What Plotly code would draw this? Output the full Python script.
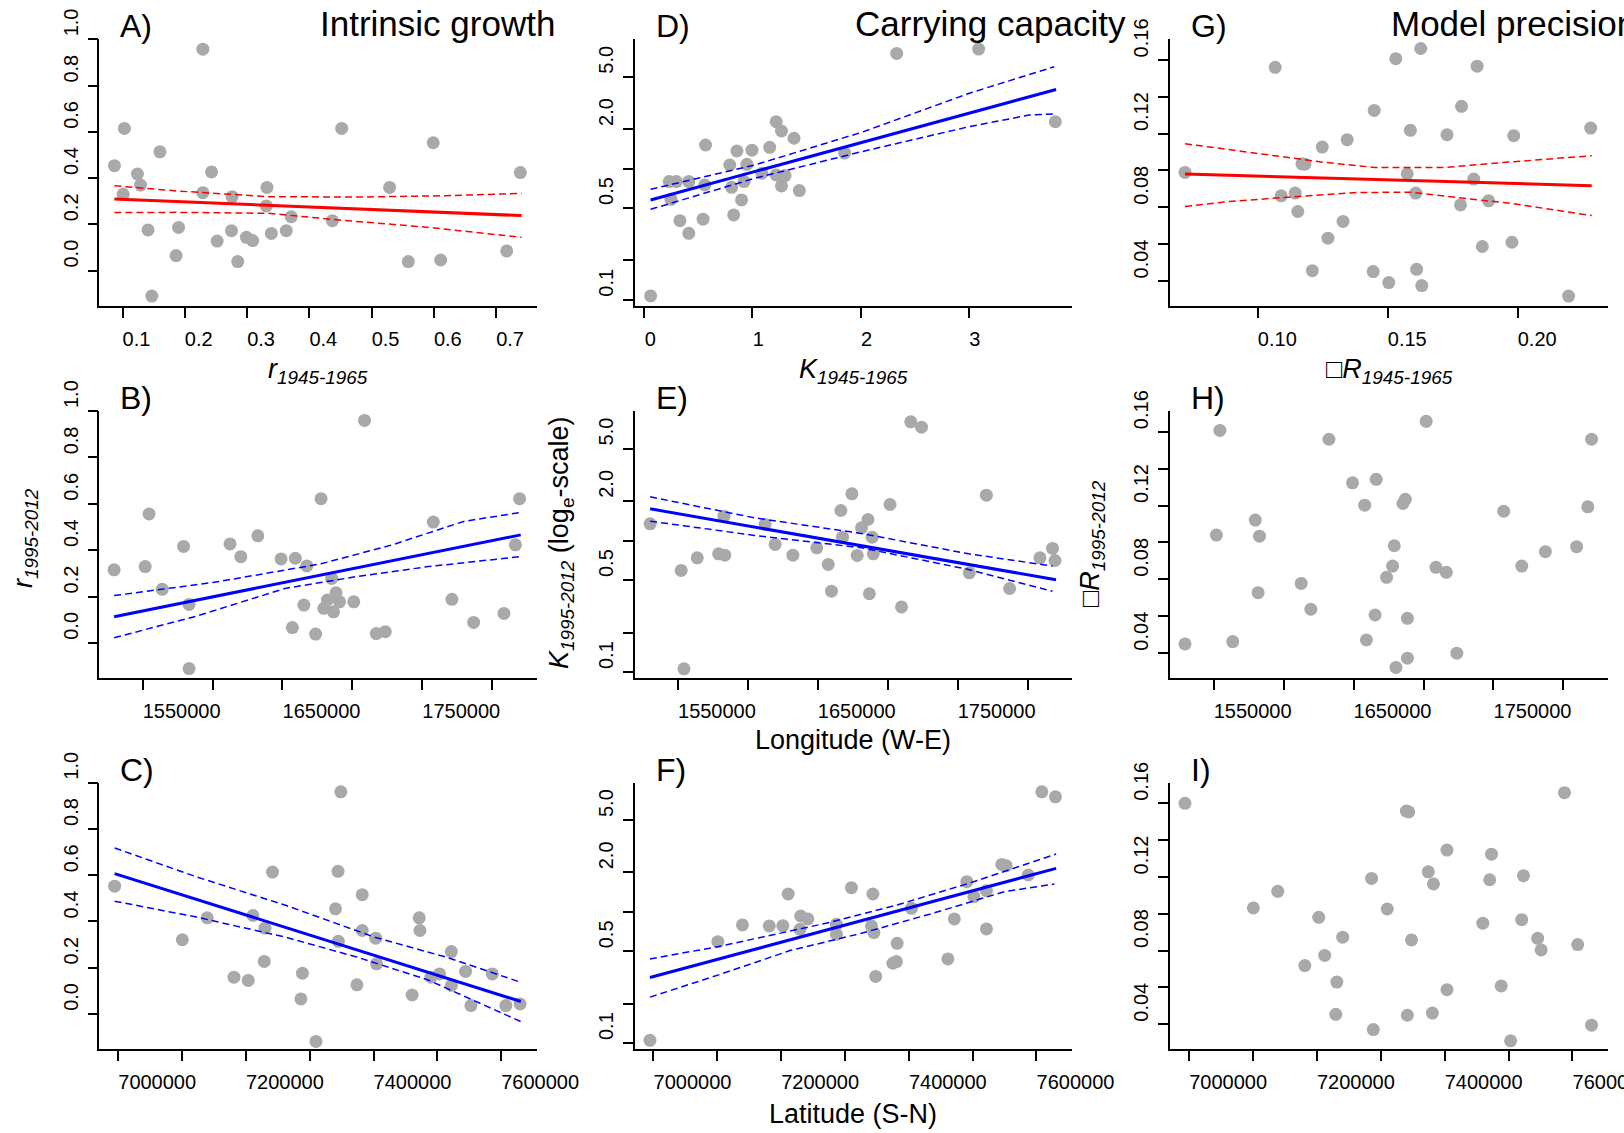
import plotly.graph_objects as go

FIG_W, FIG_H = 1624, 1133
FONT = "Liberation Sans, Arial, Helvetica, sans-serif"
PT = "#A9A9A9"
RED = "#FF0000"
BLUE = "#0000FF"

# ---------------- data ----------------
# Column 1: r 1995-2012 against r 1945-1965 (A), longitude (B), latitude (C)
A_x = [0.087, 0.103, 0.101, 0.124, 0.129, 0.160, 0.141, 0.147, 0.186, 0.190, 0.229, 0.229,
       0.243, 0.252, 0.275, 0.276, 0.285, 0.299, 0.309, 0.332, 0.331, 0.339, 0.363, 0.371,
       0.437, 0.452, 0.529, 0.559, 0.599, 0.611, 0.717, 0.739]
A_y = [0.454, 0.615, 0.330, 0.418, 0.370, 0.514, 0.176, -0.110, 0.065, 0.187, 0.958, 0.337,
       0.427, 0.128, 0.173, 0.320, 0.039, 0.144, 0.130, 0.360, 0.280, 0.161, 0.173, 0.233,
       0.216, 0.615, 0.360, 0.039, 0.553, 0.046, 0.085, 0.424]
A_fit_x = [0.087, 0.741]
A_fit_y = [0.310, 0.238]
A_hi_x = [0.087, 0.190, 0.334, 0.477, 0.620, 0.741]
A_hi_y = [0.367, 0.344, 0.320, 0.318, 0.324, 0.334]
A_lo_x = [0.087, 0.190, 0.334, 0.448, 0.592, 0.741]
A_lo_y = [0.251, 0.252, 0.248, 0.219, 0.187, 0.144]

B_x = [1529600, 1551800, 1554600, 1564000, 1579300, 1583200, 1583200, 1612500, 1620200,
       1632400, 1649000, 1659200, 1657100, 1665300, 1667400, 1673700, 1677600, 1679600,
       1682100, 1685200, 1686500, 1688300, 1690800, 1701000, 1708700, 1717100, 1723500,
       1757900, 1771200, 1786700, 1808400, 1816600, 1819600]
B_y = [0.315, 0.329, 0.556, 0.231, 0.416, 0.166, -0.111, 0.427, 0.372, 0.462, 0.362, 0.365,
       0.066, 0.163, 0.332, 0.038, 0.622, 0.149, 0.185, 0.278, 0.134, 0.216, 0.177, 0.177,
       0.960, 0.040, 0.048, 0.521, 0.188, 0.088, 0.127, 0.423, 0.622]
B_fit_x = [1529600, 1820400]
B_fit_y = [0.113, 0.466]
B_hi_x = [1529600, 1601000, 1677600, 1728600, 1779600, 1820400]
B_hi_y = [0.204, 0.261, 0.341, 0.423, 0.524, 0.563]
B_lo_x = [1529600, 1588300, 1652000, 1703100, 1754100, 1820400]
B_lo_y = [0.022, 0.115, 0.235, 0.286, 0.329, 0.372]

C_x = [6994400, 7100500, 7139500, 7181400, 7203700, 7211000, 7230000, 7228800, 7241700,
       7286300, 7288600, 7309800, 7340500, 7344400, 7344900, 7348800, 7374000, 7382300,
       7382300, 7403500, 7404700, 7460500, 7471600, 7472700, 7490100, 7503400, 7521900,
       7521900, 7544200, 7552600, 7586100, 7607300, 7629600]
C_y = [0.553, 0.321, 0.416, 0.159, 0.145, 0.426, 0.371, 0.227, 0.614, 0.065, 0.176, -0.119,
       0.455, 0.617, 0.314, 0.961, 0.126, 0.516, 0.361, 0.328, 0.217, 0.082, 0.416, 0.361,
       0.159, 0.173, 0.270, 0.123, 0.184, 0.036, 0.173, 0.036, 0.043]
C_fit_x = [6994400, 7630700]
C_fit_y = [0.607, 0.054]
C_hi_x = [6994400, 7122800, 7262300, 7401900, 7513500, 7630700]
C_hi_y = [0.718, 0.593, 0.470, 0.332, 0.246, 0.137]
C_lo_x = [6994400, 7122800, 7262300, 7374000, 7485600, 7630700]
C_lo_y = [0.488, 0.419, 0.332, 0.246, 0.147, -0.033]

# Column 2: K 1995-2012 (log scale) against K 1945-1965 (D), longitude (E), latitude (F)
D_x = [0.059, 0.231, 0.297, 0.247, 0.330, 0.412, 0.412, 0.544, 0.560, 0.567, 0.791, 0.808,
       0.827, 0.857, 0.900, 0.923, 0.949, 0.996, 1.088, 1.160, 1.220, 1.269, 1.220, 1.302,
       1.269, 1.385, 1.434, 1.853, 2.334, 3.092, 3.801]
D_y = [0.107, 0.795, 0.795, 0.583, 0.401, 0.321, 0.795, 0.411, 0.750, 1.51, 1.064, 0.719,
       0.443, 1.36, 0.576, 0.795, 1.077, 1.38, 0.920, 1.45, 2.27, 1.93, 0.893, 0.883,
       0.737, 1.70, 0.679, 1.31, 7.52, 8.12, 2.27]
D_fit_x = [0.059, 3.808]
D_fit_y = [0.576, 4.00]
D_hi_x = [0.059, 1.022, 2.011, 3.000, 3.791]
D_hi_y = [0.695, 1.064, 1.887, 3.73, 5.96]
D_lo_x = [0.059, 1.022, 2.011, 3.000, 3.560, 3.791]
D_lo_y = [0.489, 0.843, 1.344, 2.08, 2.555, 2.60]

E_x = [1530100, 1552300, 1554300, 1563800, 1579100, 1583500, 1582900, 1612300, 1619500,
       1632200, 1649300, 1657500, 1659800, 1666500, 1667700, 1674400, 1678200, 1681300,
       1685900, 1688900, 1686900, 1689700, 1701700, 1709900, 1716500, 1724200, 1758400,
       1770600, 1787200, 1808900, 1817900, 1819700]
E_y = [1.339, 0.592, 0.106, 0.739, 0.792, 0.774, 1.531, 1.324, 0.933, 0.774, 0.880, 0.658,
       0.412, 1.690, 1.060, 2.262, 0.770, 1.248, 1.444, 1.060, 0.394, 0.792, 1.878, 0.313,
       7.97, 7.26, 0.568, 2.211, 0.432, 0.739, 0.870, 0.705]
E_fit_x = [1530100, 1820400]
E_fit_y = [1.741, 0.503]
E_hi_x = [1530100, 1604700, 1681300, 1757900, 1817900]
E_hi_y = [2.147, 1.487, 1.131, 0.792, 0.639]
E_lo_x = [1530100, 1604700, 1681300, 1757900, 1817900]
E_lo_y = [1.403, 1.092, 0.880, 0.602, 0.412]

F_x = [6994400, 7100800, 7139400, 7181400, 7202600, 7211000, 7230600, 7241800, 7229500,
       7286600, 7286600, 7310100, 7343700, 7341400, 7345300, 7348100, 7375000, 7380600,
       7381700, 7404100, 7461200, 7471300, 7490900, 7502100, 7521600, 7521600, 7545700,
       7552400, 7587100, 7608400, 7629700]
F_y = [0.105, 0.593, 0.795, 0.781, 0.785, 1.368, 0.930, 0.883, 0.737, 0.804, 0.675, 1.528,
       1.368, 0.781, 0.695, 0.322, 0.406, 0.418, 0.576, 1.064, 0.438, 0.883, 1.698, 1.305,
       1.450, 0.741, 2.30, 2.247, 1.909, 8.21, 7.52]
F_fit_x = [6994400, 7630800]
F_fit_y = [0.316, 2.145]
F_hi_x = [6994400, 7101900, 7269800, 7381700, 7493700, 7630800]
F_hi_y = [0.438, 0.544, 0.818, 1.128, 1.649, 2.757]
F_lo_x = [6994400, 7101900, 7213800, 7325800, 7437700, 7549600, 7628000]
F_lo_y = [0.224, 0.331, 0.507, 0.687, 0.975, 1.425, 1.630]

# Column 3: sigma_R 1995-2012 against sigma_R 1945-1965 (G), longitude (H), latitude (I)
G_x = [0.0718, 0.1065, 0.1088, 0.1142, 0.1152, 0.1168, 0.1179, 0.1208, 0.1246, 0.1268,
       0.1326, 0.1342, 0.1446, 0.1442, 0.1502, 0.1529, 0.1573, 0.1585, 0.1606, 0.1609,
       0.1625, 0.1629, 0.1726, 0.1778, 0.1782, 0.1829, 0.1842, 0.1862, 0.1886, 0.1976,
       0.1983, 0.2194, 0.2279]
G_y = [0.0989, 0.1560, 0.0862, 0.0877, 0.0777, 0.1036, 0.1034, 0.0456, 0.1127, 0.0632,
       0.0723, 0.1167, 0.1326, 0.0451, 0.0391, 0.1607, 0.0982, 0.1218, 0.0877, 0.0463,
       0.1662, 0.0375, 0.1194, 0.0813, 0.1348, 0.0953, 0.1566, 0.0587, 0.0835, 0.0610,
       0.1189, 0.0318, 0.1230]
G_fit_x = [0.0718, 0.2283]
G_fit_y = [0.0980, 0.0917]
G_hi_x = [0.0718, 0.0888, 0.1048, 0.1248, 0.1449, 0.1716, 0.1916, 0.2283]
G_hi_y = [0.1145, 0.1112, 0.1082, 0.1045, 0.1016, 0.1016, 0.1040, 0.1080]
G_lo_x = [0.0718, 0.0888, 0.1115, 0.1382, 0.1582, 0.1782, 0.1983, 0.2283]
G_lo_y = [0.0804, 0.0831, 0.0855, 0.0880, 0.0882, 0.0850, 0.0819, 0.0755]

H_x = [1529600, 1552000, 1554500, 1563700, 1579800, 1582800, 1581800, 1612600, 1619500,
       1632400, 1649300, 1658000, 1659200, 1665400, 1666200, 1673600, 1677900, 1679100,
       1680300, 1685300, 1687000, 1688500, 1688500, 1701900, 1708900, 1716300, 1723800,
       1757300, 1770200, 1787100, 1809400, 1817400, 1820100]
H_y = [0.0450, 0.1040, 0.1607, 0.0463, 0.1121, 0.1034, 0.0728, 0.0778, 0.0638, 0.1559,
       0.1323, 0.1202, 0.0472, 0.0607, 0.1342, 0.0811, 0.0872, 0.0982, 0.0323, 0.1211,
       0.1234, 0.0589, 0.0373, 0.1656, 0.0865, 0.0838, 0.0400, 0.1169, 0.0872, 0.0950,
       0.0977, 0.1193, 0.1559]

I_x = [6993500, 7100600, 7138700, 7181100, 7202900, 7212200, 7231200, 7229600, 7240400,
       7285600, 7288300, 7310100, 7340000, 7343800, 7341600, 7348100, 7374300, 7380800,
       7382400, 7403600, 7403600, 7459700, 7470500, 7473300, 7488500, 7503200, 7520600,
       7523300, 7545600, 7551000, 7587500, 7608200, 7629900]
I_y = [0.1600, 0.1032, 0.1122, 0.0719, 0.0981, 0.0774, 0.0629, 0.0454, 0.0873, 0.1192,
       0.0371, 0.1026, 0.1558, 0.1553, 0.0449, 0.0858, 0.1228, 0.0461, 0.1162, 0.1346,
       0.0588, 0.0949, 0.1185, 0.1324, 0.0608, 0.0310, 0.0968, 0.1207, 0.0867, 0.0804,
       0.1658, 0.0833, 0.0395]

# tick values / labels
R_TICKS = [0.0, 0.2, 0.4, 0.6, 0.8, 1.0]
R_TEXT = ["0.0", "0.2", "0.4", "0.6", "0.8", "1.0"]
K_TICKS = [0.1, 0.2, 0.5, 1, 2, 5]
K_TEXT = ["0.1", "", "0.5", "", "2.0", "5.0"]
S_TICKS = [0.04, 0.06, 0.08, 0.10, 0.12, 0.14, 0.16]
S_TEXT = ["0.04", "", "0.08", "", "0.12", "", "0.16"]
RX_TICKS = [0.1, 0.2, 0.3, 0.4, 0.5, 0.6, 0.7]
RX_TEXT = ["0.1", "0.2", "0.3", "0.4", "0.5", "0.6", "0.7"]
KX_TICKS = [0, 1, 2, 3]
KX_TEXT = ["0", "1", "2", "3"]
SX_TICKS = [0.10, 0.15, 0.20]
SX_TEXT = ["0.10", "0.15", "0.20"]
LON_TICKS = [1550000, 1600000, 1650000, 1700000, 1750000, 1800000]
LON_TEXT = ["1550000", "", "1650000", "", "1750000", ""]
LAT_TICKS = [7000000, 7100000, 7200000, 7300000, 7400000, 7500000, 7600000]
LAT_TEXT = ["7000000", "", "7200000", "", "7400000", "", "7600000"]

# ---------------- layout geometry (pixels) ----------------
COL_X = [(99.3, 536.8), (634.6, 1072.1), (1170.2, 1608.1)]
ROW_Y = [(39.3, 306.0), (411.0, 678.3), (782.7, 1049.3)]
TICK_FS = 20


def px(x):
    return x / FIG_W


def py(y):
    return 1 - y / FIG_H


def xdom(c):
    return [px(COL_X[c][0]), px(COL_X[c][1])]


def ydom(r):
    return [py(ROW_Y[r][1]), py(ROW_Y[r][0])]


fig = go.Figure()

panels = [
    ("A", 0, 0, A_x, A_y, (A_fit_x, A_fit_y, A_hi_x, A_hi_y, A_lo_x, A_lo_y), RED,
     dict(range=[0.0627, 0.7654], tickvals=RX_TICKS, ticktext=RX_TEXT, shift=1.39),
     dict(type="linear", range=[-0.153, 1.0005], tickvals=R_TICKS, ticktext=R_TEXT, shift=1.39)),
    ("D", 0, 1, D_x, D_y, (D_fit_x, D_fit_y, D_hi_x, D_hi_y, D_lo_x, D_lo_y), BLUE,
     dict(range=[-0.089, 3.956], tickvals=KX_TICKS, ticktext=KX_TEXT, shift=0.556),
     dict(type="log", range=[-1.047, 0.984], tickvals=K_TICKS, ticktext=K_TEXT, shift=1.39)),
    ("G", 0, 2, G_x, G_y, (G_fit_x, G_fit_y, G_hi_x, G_hi_y, G_lo_x, G_lo_y), RED,
     dict(range=[0.0661, 0.2346], tickvals=SX_TICKS, ticktext=SX_TEXT, shift=1.946),
     dict(type="linear", range=[0.0264, 0.1712], tickvals=S_TICKS, ticktext=S_TEXT, shift=1.946)),
    ("B", 1, 0, B_x, B_y, (B_fit_x, B_fit_y, B_hi_x, B_hi_y, B_lo_x, B_lo_y), BLUE,
     dict(range=[1519000, 1831900], tickvals=LON_TICKS, ticktext=LON_TEXT, shift=3.892),
     dict(type="linear", range=[-0.153, 1.0005], tickvals=R_TICKS, ticktext=R_TEXT, shift=1.39)),
    ("E", 1, 1, E_x, E_y, (E_fit_x, E_fit_y, E_hi_x, E_hi_y, E_lo_x, E_lo_y), BLUE,
     dict(range=[1519000, 1831900], tickvals=LON_TICKS, ticktext=LON_TEXT, shift=3.892),
     dict(type="log", range=[-1.047, 0.984], tickvals=K_TICKS, ticktext=K_TEXT, shift=1.39)),
    ("H", 1, 2, H_x, H_y, None, None,
     dict(range=[1519000, 1831900], tickvals=LON_TICKS, ticktext=LON_TEXT, shift=3.892),
     dict(type="linear", range=[0.0264, 0.1712], tickvals=S_TICKS, ticktext=S_TEXT, shift=1.946)),
    ("C", 2, 0, C_x, C_y, (C_fit_x, C_fit_y, C_hi_x, C_hi_y, C_lo_x, C_lo_y), BLUE,
     dict(range=[6970400, 7655800], tickvals=LAT_TICKS, ticktext=LAT_TEXT, shift=3.892),
     dict(type="linear", range=[-0.153, 1.0005], tickvals=R_TICKS, ticktext=R_TEXT, shift=1.39)),
    ("F", 2, 1, F_x, F_y, (F_fit_x, F_fit_y, F_hi_x, F_hi_y, F_lo_x, F_lo_y), BLUE,
     dict(range=[6970400, 7655800], tickvals=LAT_TICKS, ticktext=LAT_TEXT, shift=3.892),
     dict(type="log", range=[-1.047, 0.984], tickvals=K_TICKS, ticktext=K_TEXT, shift=1.39)),
    ("I", 2, 2, I_x, I_y, None, None,
     dict(range=[6970400, 7655800], tickvals=LAT_TICKS, ticktext=LAT_TEXT, shift=3.892),
     dict(type="linear", range=[0.0264, 0.1712], tickvals=S_TICKS, ticktext=S_TEXT, shift=1.946)),
]

axis_common = dict(showline=True, linecolor="black", linewidth=1.5, ticks="outside",
                   ticklen=10, tickwidth=1.5, tickcolor="black", showgrid=False,
                   zeroline=False, mirror=False, automargin=False, fixedrange=True,
                   ticklabeloverflow="allow",
                   tickfont=dict(family=FONT, size=TICK_FS, color="black"))

layout_axes = {}
for i, (name, r, c, xs, ys, fits, col, xcfg, ycfg) in enumerate(panels, start=1):
    xa = "x" if i == 1 else f"x{i}"
    ya = "y" if i == 1 else f"y{i}"
    fig.add_trace(go.Scatter(x=xs, y=ys, mode="markers", xaxis=xa, yaxis=ya,
                             marker=dict(size=13, color=PT, line=dict(width=0)),
                             showlegend=False, hoverinfo="skip"))
    if fits is not None:
        fx, fy, hx, hy, lx, ly = fits
        for (lxs, lys, w, dash) in [(hx, hy, 1.5, "7px,4px"), (lx, ly, 1.5, "7px,4px"),
                                    (fx, fy, 3, "solid")]:
            fig.add_trace(go.Scatter(x=lxs, y=lys, mode="lines", xaxis=xa, yaxis=ya,
                                     line=dict(color=col, width=w, dash=dash),
                                     showlegend=False, hoverinfo="skip"))
    xkey = "xaxis" if i == 1 else f"xaxis{i}"
    ykey = "yaxis" if i == 1 else f"yaxis{i}"
    layout_axes[xkey] = dict(axis_common, domain=xdom(c), anchor=ya, range=xcfg["range"],
                             tickvals=xcfg["tickvals"], ticktext=xcfg["ticktext"],
                             tickangle=0,
                             ticklabelshift=int(round(xcfg["shift"] * TICK_FS / 2)),
                             ticklabelstandoff=4)
    # labels start at their tick and run upwards
    layout_axes[ykey] = dict(axis_common, domain=ydom(r), anchor=xa, type=ycfg["type"],
                             range=ycfg["range"], tickvals=ycfg["tickvals"],
                             ticktext=ycfg["ticktext"], tickangle=-90,
                             ticklabelshift=-int(round(ycfg["shift"] * TICK_FS / 2)),
                             ticklabelstandoff=2)

fig.update_layout(**layout_axes)

# ---------------- text ----------------
ann = []
LET_FS, TIT_FS, AX_FS = 32, 35, 27
letters = [("A)", 0, 0), ("D)", 0, 1), ("G)", 0, 2), ("B)", 1, 0), ("E)", 1, 1),
           ("H)", 1, 2), ("C)", 2, 0), ("F)", 2, 1), ("I)", 2, 2)]
for txt, r, c in letters:
    base = ROW_Y[r][0] - 2
    ann.append(dict(text=txt, x=px(COL_X[c][0] + 19), y=py(base - 0.3465 * LET_FS),
                    xanchor="left", yanchor="middle", font=dict(size=LET_FS)))
titles = [("Intrinsic growth", 0), ("Carrying capacity", 1), ("Model precision", 2)]
for txt, c in titles:
    ann.append(dict(text=txt, x=px(COL_X[c][0] + 218.6), y=py(36 - 0.3465 * TIT_FS),
                    xanchor="left", yanchor="middle", font=dict(size=TIT_FS)))


def ccx(c):
    return px((COL_X[c][0] + COL_X[c][1]) / 2)


xtitles = [("<i>r</i><sub><i>1945-1965</i></sub>", ccx(0), py(371)),
           ("<i>K</i><sub><i>1945-1965</i></sub>", ccx(1), py(371)),
           ("\u25a1<i>R</i><sub><i>1945-1965</i></sub>", ccx(2), py(371)),
           ("Longitude (W-E)", ccx(1), py(740)),
           ("Latitude (S-N)", ccx(1), py(1114))]
for txt, x, y in xtitles:
    ann.append(dict(text=txt, x=x, y=y, xanchor="center", yanchor="middle",
                    font=dict(size=AX_FS)))

ytitles = [("<i>r</i><sub><i>1995-2012</i></sub>", px(25), py(538)),
           ("<i>K</i><sub><i>1995-2012</i></sub> (log<sub>e</sub>-scale)", px(561), py(543)),
           ("\u25a1<i>R</i><sub><i>1995-2012</i></sub>", px(1092), py(544))]
for txt, x, y in ytitles:
    ann.append(dict(text=txt, x=x, y=y, xanchor="center", yanchor="middle",
                    textangle=-90, font=dict(size=AX_FS)))

for a in ann:
    a.update(xref="paper", yref="paper", showarrow=False)
    a["font"].update(family=FONT, color="black")

fig.update_layout(
    width=FIG_W, height=FIG_H, margin=dict(l=0, r=0, t=0, b=0, pad=0),
    template="none", paper_bgcolor="white", plot_bgcolor="white",
    font=dict(family=FONT, color="black"), annotations=ann, showlegend=False,
)

fig.write_html("out.html")
